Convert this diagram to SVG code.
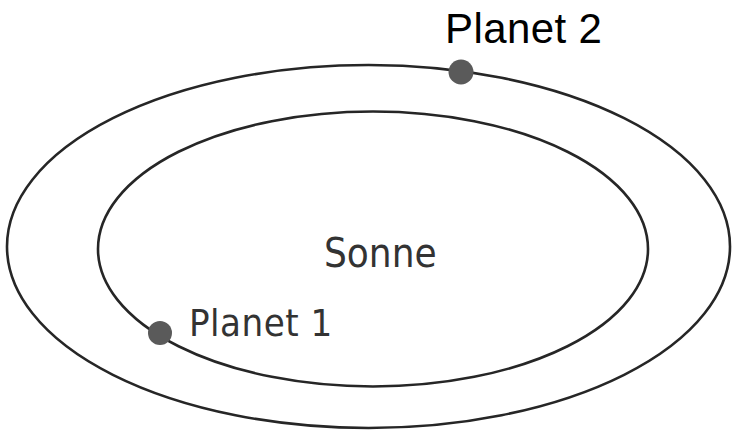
<svg xmlns="http://www.w3.org/2000/svg" width="732" height="431" viewBox="0 0 732 431">
  <style>
    .orbit { fill: none; stroke: #262626; stroke-width: 2.6; }
    .planet { fill: #5a5a5a; }
    .lbl { font-family: "DejaVu Sans Condensed", "DejaVu Sans", sans-serif; fill: #333333; }
    .title { font-family: "Liberation Sans", Arial, sans-serif; fill: #000000; font-size: 42px; }
  </style>
  <rect x="0" y="0" width="732" height="431" fill="#ffffff"/>
  <g id="orbits">
    <ellipse id="outer-orbit" class="orbit" cx="368.5" cy="246.5" rx="361.5" ry="181.5"/>
    <ellipse id="inner-orbit" class="orbit" cx="373" cy="249" rx="275" ry="137.5"/>
  </g>
  <g id="sonne">
    <text class="lbl" x="324" y="267" font-size="40">Sonne</text>
  </g>
  <g id="planet1">
    <circle class="planet" cx="160" cy="333" r="12"/>
    <text class="lbl" x="189" y="336" font-size="38" letter-spacing="0.5">Planet 1</text>
  </g>
  <g id="planet2">
    <circle class="planet" cx="461" cy="72" r="12.5"/>
    <text class="title" x="445" y="43" letter-spacing="0.4">Planet 2</text>
  </g>
</svg>
